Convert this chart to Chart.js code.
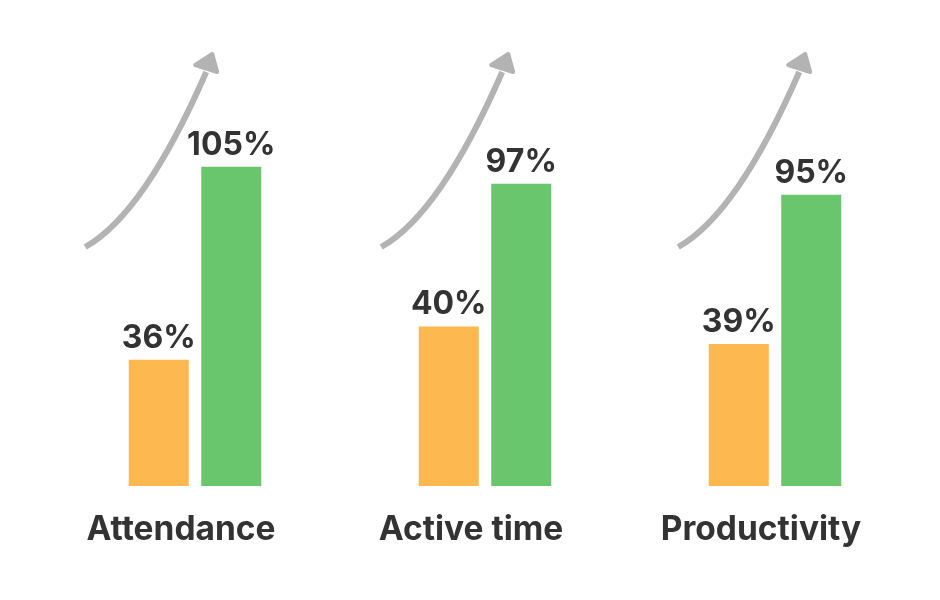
<!DOCTYPE html>
<html>
<head>
<meta charset="utf-8">
<script src="https://cdn.jsdelivr.net/npm/chart.js@4/dist/chart.umd.min.js"></script>
<style>
  html, body { margin: 0; padding: 0; background: #ffffff; }
  #wrap { width: 940px; height: 600px; position: relative; }
</style>
</head>
<body>
<div id="wrap"><canvas id="c" width="940" height="600"></canvas></div>
<script>
// ---- data ----
const categories = ["Attendance", "Active time", "Productivity"];
const beforeLabels = [36, 40, 39];          // printed values, orange series (%)
const afterLabels = [105, 97, 95];          // printed values, green series (%)
// bar heights as drawn in the picture (the infographic is not to scale), in % units
const beforeHeights = [41.5, 52.5, 46.7];
const afterHeights = [105, 99.4, 95.8];

const ORANGE = "#FDB84F";
const GREEN = "#6AC66D";
const TEXT = "#333333";
const FONT = "Inter, 'Liberation Sans', Arial, sans-serif";

const decorPlugin = {
  id: "decor",
  afterDatasetsDraw(chart, args, opts) {
    const ctx = chart.ctx;
    const metaB = chart.getDatasetMeta(0);
    const metaA = chart.getDatasetMeta(1);
    const labelSets = [beforeLabels, afterLabels];
    // value labels
    ctx.save();
    ctx.fillStyle = TEXT;
    ctx.font = "700 " + opts.valueFontSize + "px " + FONT;
    ctx.textAlign = "center";
    ctx.textBaseline = "alphabetic";
    [metaB, metaA].forEach((meta, di) => {
      meta.data.forEach((bar, i) => {
        ctx.fillText(labelSets[di][i] + "%", bar.x, bar.y - opts.labelGap);
      });
    });
    ctx.restore();
    // curved arrows
    ctx.save();
    ctx.strokeStyle = opts.arrowColor;
    ctx.fillStyle = opts.arrowColor;
    ctx.lineWidth = 6;
    ctx.lineCap = "butt";
    ctx.lineJoin = "round";
    metaA.data.forEach((bar, i) => {
      const left = bar.x - bar.width / 2;
      const tx = left + opts.tipOffsets[i];
      const ty = opts.tipY;
      ctx.beginPath();
      ctx.moveTo(tx - 127, ty + 193);
      ctx.quadraticCurveTo(tx - 68, ty + 160, tx - 6, ty + 18);
      ctx.stroke();
      // head
      ctx.beginPath();
      ctx.moveTo(tx, ty);
      ctx.lineTo(tx - 17, ty + 11);
      ctx.lineTo(tx + 5, ty + 18);
      ctx.closePath();
      ctx.lineWidth = 4;
      ctx.fill();
      ctx.stroke();
      ctx.lineWidth = 6;
    });
    ctx.restore();
  }
};

new Chart(document.getElementById("c"), {
  type: "bar",
  data: {
    labels: categories,
    datasets: [
      { label: "Before", data: beforeHeights, backgroundColor: ORANGE, borderWidth: 0 },
      { label: "After", data: afterHeights, backgroundColor: GREEN, borderWidth: 0 }
    ]
  },
  options: {
    responsive: false,
    animation: false,
    devicePixelRatio: 1,
    layout: { padding: { top: 30, left: 50, right: 20, bottom: 0 } },
    datasets: { bar: { categoryPercentage: 0.5, barPercentage: 0.828 } },
    plugins: {
      legend: { display: false },
      tooltip: { enabled: false },
      decor: {
        valueFontSize: 32,
        labelGap: 12,
        arrowColor: "#B3B3B3",
        tipOffsets: [11, 17, 24],
        tipY: 54
      }
    },
    scales: {
      x: {
        grid: { display: false },
        border: { display: false },
        ticks: {
          color: TEXT,
          font: { family: FONT, size: 33.5, weight: "700" },
          padding: 16,
          labelOffset: -14,
          maxRotation: 0,
          autoSkip: false
        },
        afterFit(scale) { scale.height = 114; }
      },
      y: {
        display: false,
        min: 0,
        max: 150
      }
    }
  },
  plugins: [decorPlugin]
});
</script>
</body>
</html>
